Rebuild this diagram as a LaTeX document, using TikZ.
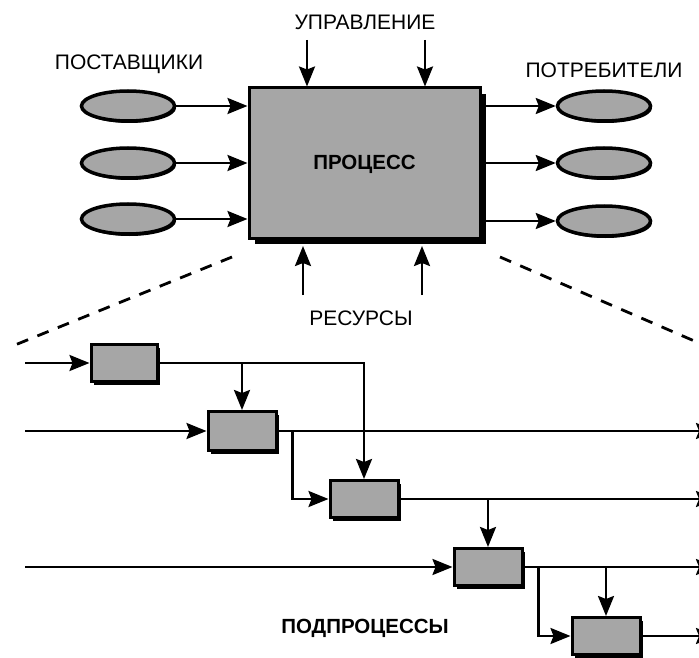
\documentclass[tikz,border=0pt]{standalone}
\usepackage{fontspec}
\setmainfont{Liberation Sans}
\usetikzlibrary{arrows.meta,shapes.geometric,shadows}
\begin{document}
\begin{tikzpicture}[x=1pt,y=-1pt,
  arr/.style={line width=2.5pt,-{Stealth[length=20pt,width=16pt,inset=3pt]}},
  mainbox/.style={draw,line width=3pt,fill=black!35,minimum width=231pt,minimum height=150pt,inner sep=0pt,
    drop shadow={shadow xshift=6pt,shadow yshift=-6pt,opacity=1,fill=black}},
  subbox/.style={draw,line width=3pt,fill=black!35,minimum width=66pt,minimum height=37pt,inner sep=0pt,
    drop shadow={shadow xshift=3pt,shadow yshift=-3pt,opacity=1,fill=black}},
  oval/.style={ellipse,draw,line width=3.5pt,fill=black!35,minimum width=93pt,minimum height=30pt,inner sep=0pt,
    drop shadow={shadow xshift=1.5pt,shadow yshift=-2pt,opacity=1,fill=black}},
  lbl/.style={font=\fontsize{21}{24}\selectfont},
  blbl/.style={font=\bfseries\fontsize{20.5}{24}\selectfont},
  dashline/.style={line width=2.8pt,dash pattern=on 12pt off 10pt}
]
\useasboundingbox (0,0) rectangle (699,658);

% main process
\node[mainbox] (P) at (364.5,163) {};
\node[blbl] (Pt) at (364.5,164) {ПРОЦЕСС};

% labels
\node[lbl] (lu) at (365,22) {УПРАВЛЕНИЕ};
\node[lbl] (ls) at (129,64) {ПОСТАВЩИКИ};
\node[lbl] (lc) at (604,70) {ПОТРЕБИТЕЛИ};
\node[lbl] (lr) at (361,318) {РЕСУРСЫ};
\node[blbl] (lp) at (365,628) {ПОДПРОЦЕССЫ};

% suppliers
\node[oval] (s1) at (128,106) {};
\node[oval] (s2) at (128,163) {};
\node[oval] (s3) at (128,219) {};
% consumers
\node[oval] (c1) at (604,106) {};
\node[oval] (c2) at (604,163) {};
\node[oval] (c3) at (604,221) {};

\foreach \i in {1,2,3}{
  \draw[arr] (s\i.east) -- (P.west |- s\i.east);
  \draw[arr] (P.east |- c\i.west) -- (c\i.west);
}

% control and resources
\coordinate (u1) at (307,40);
\coordinate (u2) at (425,40);
\draw[arr] (u1) -- (u1 |- P.north);
\draw[arr] (u2) -- (u2 |- P.north);
\coordinate (r1) at (303,295);
\coordinate (r2) at (422,295);
\coordinate (pb) at (364,246);
\draw[arr] (r1) -- (r1 |- pb);
\draw[arr] (r2) -- (r2 |- pb);

% dashed projection lines
\coordinate (dl1) at (232,257);
\coordinate (dl2) at (15,345);
\coordinate (dr1) at (500,257);
\coordinate (dr2) at (699,343);
\draw[dashline] (dl1) -- (dl2);
\draw[dashline] (dr1) -- (dr2);

% subprocesses
\node[subbox] (b1) at (124,363) {};
\node[subbox,minimum width=68pt,minimum height=39pt] (b2) at (242,431) {};
\node[subbox,minimum width=68pt] (b3) at (364,499) {};
\node[subbox,minimum width=68pt] (b4) at (488,567) {};
\node[subbox,minimum width=68pt] (b5) at (606,636) {};

\coordinate (i1) at (25,363);
\coordinate (i2) at (25,431);
\coordinate (i4) at (25,567);
\coordinate (o2) at (716,431);
\coordinate (o3) at (716,499);
\coordinate (o4) at (716,567);
\coordinate (o5) at (716,636);

\draw[arr] (i1) -- (b1.west);
\draw[arr] (i2) -- (b2.west);
\draw[arr] (i4) -- (b4.west);

\draw[arr] (b1.east) -| (b3.north);
\draw[arr] (b2.north |- b1.east) -- (b2.north);

\draw[arr] (b2.east) -- (o2);
\draw[arr] ([xshift=15pt]b2.east) |- (b3.west);

\draw[arr] (b3.east) -- (o3);
\draw[arr] (b4.north |- b3.east) -- (b4.north);

\draw[arr] (b4.east) -- (o4);
\draw[arr] ([xshift=15pt]b4.east) |- (b5.west);
\draw[arr] (b5.north |- b4.east) -- (b5.north);

\draw[arr] (b5.east) -- (o5);
\end{tikzpicture}
\end{document}
